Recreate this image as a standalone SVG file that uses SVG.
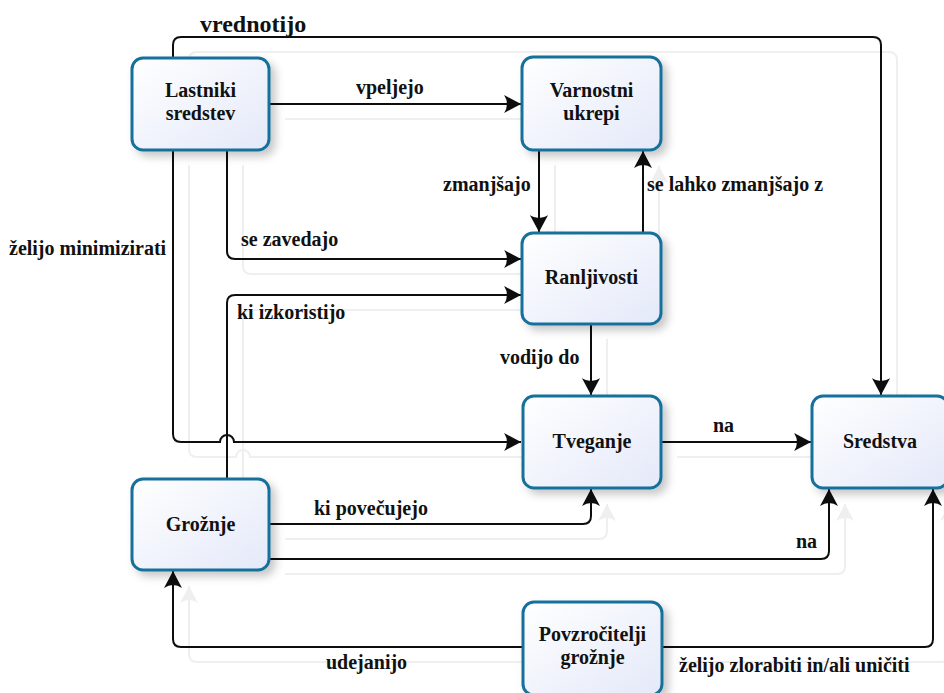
<svg xmlns="http://www.w3.org/2000/svg" width="944" height="693" viewBox="0 0 944 693">
<defs>
<linearGradient id="nodeFill" x1="0" y1="0" x2="1" y2="1">
<stop offset="0" stop-color="#ffffff"/>
<stop offset="1" stop-color="#e4e9f9"/>
</linearGradient>
<filter id="nodeShadow" x="-20%" y="-20%" width="150%" height="150%">
<feDropShadow dx="5" dy="5" stdDeviation="4" flood-color="#000" flood-opacity="0.22"/>
</filter>
<filter id="lineShadow" x="-5%" y="-5%" width="115%" height="115%">
<feOffset in="SourceAlpha" dx="16" dy="15" result="off"/>
<feFlood flood-color="#efefef"/>
<feComposite in2="off" operator="in" result="sh"/>
<feMerge><feMergeNode in="sh"/><feMergeNode in="SourceGraphic"/></feMerge>
</filter>
<marker id="arrow" markerUnits="userSpaceOnUse" markerWidth="18" markerHeight="18" refX="15" refY="8" orient="auto" viewBox="0 0 16 16">
<path d="M0,0 L15,8 L0,16 Q5,8 0,0 Z" fill="#111"/>
</marker>
<style>
.node rect{fill:url(#nodeFill);stroke:#17709c;stroke-width:3;filter:url(#nodeShadow)}
.node text,.lbl{font-family:"Liberation Serif","Times New Roman",serif;font-weight:bold;font-size:20px;fill:#111}
.node text{text-anchor:middle}
.conn path{fill:none;stroke:#111;stroke-width:2}
.conn path.a{marker-end:url(#arrow)}
</style>
</defs>
<rect width="944" height="693" fill="#fff"/>
<g id="connectors" class="conn" filter="url(#lineShadow)">
<path class="a" d="M173,58 V45 Q173,37 181,37 H873 Q881,37 881,45 V395"/>
<path class="a" d="M269,104 H521"/>
<path class="a" d="M539,150 V232"/>
<path class="a" d="M643,233 V151"/>
<path class="a" d="M227,150 V251 Q227,259 235,259 H521"/>
<path class="a" d="M227,479 V303 Q227,295 235,295 H521"/>
<path class="a" d="M173,150 V434 Q173,442 181,442 H220 A7,7 0 0 1 234,442 H521"/>
<path class="a" d="M591,324 V395"/>
<path class="a" d="M661,442 H811"/>
<path class="a" d="M269,524 H583 Q591,524 591,516 V489"/>
<path class="a" d="M269,559 H821 Q829,559 829,551 V489"/>
<path class="a" d="M523,647 H181 Q173,647 173,639 V571"/>
<path class="a" d="M662,647 H925 Q933,647 933,639 V489"/>
</g>
<g id="labels">
<text class="lbl" x="200" y="32" style="font-size:24px">vrednotijo</text>
<text class="lbl" x="356" y="94">vpeljejo</text>
<text class="lbl" x="443" y="191">zmanjšajo</text>
<text class="lbl" x="647" y="191">se lahko zmanjšajo z</text>
<text class="lbl" x="241" y="246">se zavedajo</text>
<text class="lbl" x="237" y="319">ki izkoristijo</text>
<text class="lbl" x="9" y="255">želijo minimizirati</text>
<text class="lbl" x="500" y="364">vodijo do</text>
<text class="lbl" x="713" y="432">na</text>
<text class="lbl" x="314" y="515">ki povečujejo</text>
<text class="lbl" x="796" y="548">na</text>
<text class="lbl" x="326" y="669">udejanijo</text>
<text class="lbl" x="679" y="672">želijo zlorabiti in/ali uničiti</text>
</g>
<g id="lastniki" class="node">
<rect x="132" y="58" width="137" height="92" rx="11"/>
<text x="200.5" y="97">Lastniki</text>
<text x="200.5" y="120">sredstev</text>
</g>
<g id="varnostni" class="node">
<rect x="522" y="57" width="139" height="93" rx="11"/>
<text x="591.5" y="97">Varnostni</text>
<text x="591.5" y="120">ukrepi</text>
</g>
<g id="ranljivosti" class="node">
<rect x="522" y="233" width="139" height="91" rx="11"/>
<text x="591.5" y="284">Ranljivosti</text>
</g>
<g id="tveganje" class="node">
<rect x="523" y="396" width="138" height="92" rx="11"/>
<text x="592" y="448">Tveganje</text>
</g>
<g id="sredstva" class="node">
<rect x="812" y="396" width="136" height="92" rx="11"/>
<text x="880" y="448">Sredstva</text>
</g>
<g id="groznje" class="node">
<rect x="132" y="479" width="137" height="91" rx="11"/>
<text x="200.5" y="531">Grožnje</text>
</g>
<g id="povzrocitelji" class="node">
<rect x="523" y="602" width="139" height="93" rx="11"/>
<text x="592.5" y="641">Povzročitelji</text>
<text x="592.5" y="664">grožnje</text>
</g>
</svg>
